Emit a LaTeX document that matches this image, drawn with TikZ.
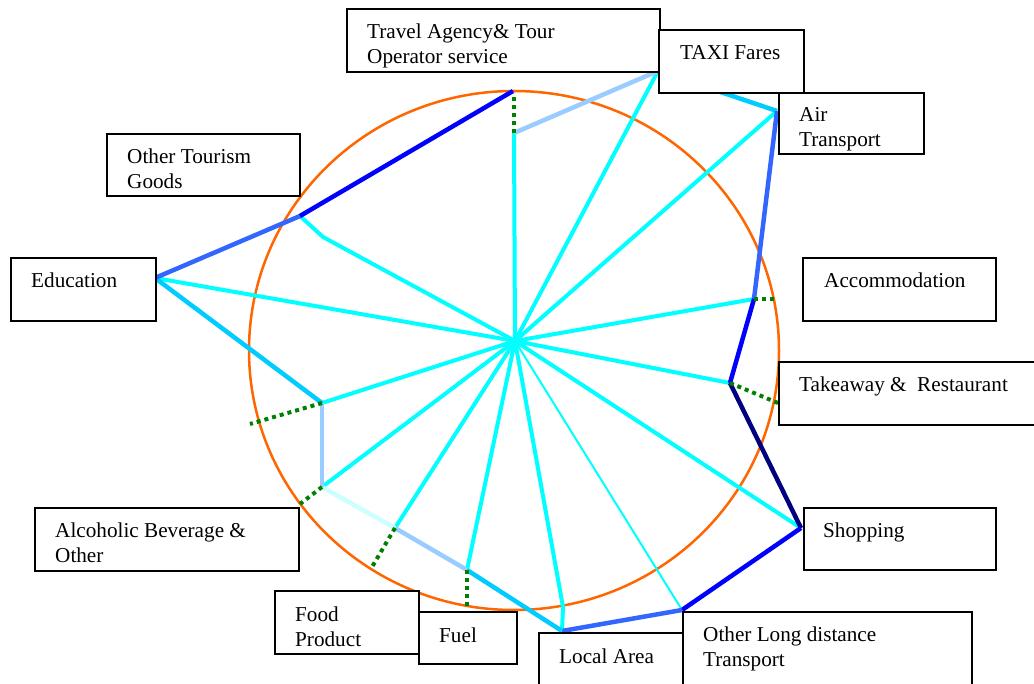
\documentclass[tikz,border=0pt]{standalone}
\usepackage{fontspec}
\setmainfont{Liberation Serif}
\definecolor{spoke}{HTML}{00FFFF}
\definecolor{lightblue}{HTML}{99CCFF}
\definecolor{skyblue}{HTML}{00CCFF}
\definecolor{royal}{HTML}{3366FF}
\definecolor{pureblue}{HTML}{0000FF}
\definecolor{navyblue}{HTML}{000080}
\definecolor{palecyan}{HTML}{CCFFFF}
\definecolor{ring}{HTML}{FF6600}
\definecolor{dotgreen}{HTML}{008000}
\begin{document}
\begin{tikzpicture}[x=1pt,y=-1pt,
  spokeline/.style={spoke,line width=4pt},
  thinspoke/.style={spoke,line width=2pt},
  rim/.style={line width=4.5pt},
  guide/.style={dotgreen,line width=4pt,dash pattern=on 4pt off 4pt},
  box/.style={draw=black,line width=2pt,fill=white,anchor=north west,inner sep=0pt},
  lbl/.style={anchor=base west,align=left,inner sep=0pt,font=\fontsize{21.2}{25}\selectfont}]
\useasboundingbox (0,0) rectangle (1034,684);

% reference circle
\draw[ring,line width=2.5pt] (514,350.5) ellipse [x radius=265, y radius=259.5];

% data points
\coordinate (hub) at (515,341);
\coordinate (pTravel) at (514,133);
\coordinate (pTop) at (513,91);
\coordinate (pTaxi) at (658,71);
\coordinate (pAir) at (777,111);
\coordinate (pAcc) at (754,299);
\coordinate (pTake) at (730,383);
\coordinate (pShop) at (801,528);
\coordinate (pLong) at (682,610);
\coordinate (kLocal) at (563,607);
\coordinate (pLocal) at (562,631);
\coordinate (pFuel) at (467,570);
\coordinate (pFood) at (395,528);
\coordinate (pAlc) at (322,487);
\coordinate (pMid) at (322,403);
\coordinate (pEdu) at (155,278);
\coordinate (kOther) at (323,237);
\coordinate (pOther) at (300,216);

% free ends of the dotted guides
\coordinate (gTravel) at (514,93);
\coordinate (gAcc) at (776,299);
\coordinate (gTake) at (778,403);
\coordinate (gMid) at (250,424);
\coordinate (gAlc) at (300,504);
\coordinate (gFood) at (372,567);
\coordinate (gFuel) at (467,609);

% spokes
\draw[spokeline] (hub) -- (pTravel);
\draw[spokeline] (hub) -- (pTaxi);
\draw[spokeline] (hub) -- (pAir);
\draw[spokeline] (hub) -- (pAcc);
\draw[spokeline] (hub) -- (pTake);
\draw[spokeline] (hub) -- (pShop);
\draw[thinspoke] (hub) -- (pLong);
\draw[spokeline] (hub) -- (kLocal) -- (pLocal);
\draw[spokeline] (hub) -- (pFuel);
\draw[spokeline] (hub) -- (pFood);
\draw[spokeline] (hub) -- (pAlc);
\draw[spokeline] (hub) -- (pMid);
\draw[spokeline] (hub) -- (pEdu);
\draw[spokeline] (hub) -- (kOther) -- (pOther);

% outline
\draw[rim,lightblue] (pTravel) -- (pTaxi);
\draw[rim,skyblue] (pTaxi) -- (pAir);
\draw[rim,royal] (pAir) -- (pAcc);
\draw[rim,pureblue] (pAcc) -- (pTake);
\draw[rim,navyblue] (pTake) -- (pShop);
\draw[rim,pureblue] (pShop) -- (pLong);
\draw[rim,royal] (pLong) -- (pLocal);
\draw[rim,skyblue] (pLocal) -- (pFuel);
\draw[rim,lightblue] (pFuel) -- (pFood);
\draw[rim,palecyan] (pFood) -- (pAlc);
\draw[rim,lightblue] (pAlc) -- (pMid);
\draw[rim,skyblue] (pMid) -- (pEdu);
\draw[rim,royal] (pEdu) -- (pOther);
\draw[rim,pureblue] (pOther) -- (pTop);

% dotted guides
\draw[guide] (pTravel) -- (gTravel);
\draw[guide] (pAcc) -- (gAcc);
\draw[guide] (pTake) -- (gTake);
\draw[guide] (pMid) -- (gMid);
\draw[guide] (pAlc) -- (gAlc);
\draw[guide] (pFood) -- (gFood);
\draw[guide] (pFuel) -- (gFuel);

% category boxes
\node[box,minimum width=313pt,minimum height=63pt] (travel) at (346,8) {};
\node[box,minimum width=145pt,minimum height=63pt] (taxi) at (658,29) {};
\node[box,minimum width=145pt,minimum height=61pt] (air) at (778,92) {};
\node[box,minimum width=193pt,minimum height=63pt] (acc) at (802,257) {};
\node[box,minimum width=270pt,minimum height=63pt] (take) at (778,361) {};
\node[box,minimum width=192pt,minimum height=62pt] (shop) at (803,507) {};
\node[box,minimum width=289pt,minimum height=76pt] (long) at (682,611) {};
\node[box,minimum width=144pt,minimum height=60pt] (local) at (538,632) {};
\node[box,minimum width=98pt,minimum height=52pt] (fuel) at (418,611) {};
\node[box,minimum width=144pt,minimum height=63pt] (food) at (274,590) {};
\node[box,minimum width=264pt,minimum height=63pt] (alc) at (34,507) {};
\node[box,minimum width=145pt,minimum height=63pt] (edu) at (10,257) {};
\node[box,minimum width=193pt,minimum height=62pt] (other) at (106,133) {};

% labels (two-line labels sit on the baseline of their second line)
\node[lbl] (travel-t) at ([shift={(21,55.5)}]travel.north west) {Travel Agency\& Tour\\Operator service};
\node[lbl] (taxi-t) at ([shift={(22,30.5)}]taxi.north west) {TAXI Fares};
\node[lbl] (air-t) at ([shift={(21,54.5)}]air.north west) {Air\\Transport};
\node[lbl] (acc-t) at ([shift={(22,30.5)}]acc.north west) {Accommodation};
\node[lbl] (take-t) at ([shift={(21,30.5)}]take.north west) {Takeaway \&\ \ Restaurant};
\node[lbl] (shop-t) at ([shift={(20,30.5)}]shop.north west) {Shopping};
\node[lbl] (long-t) at ([shift={(21,55.5)}]long.north west) {Other Long distance\\Transport};
\node[lbl] (local-t) at ([shift={(21,31)}]local.north west) {Local Area};
\node[lbl] (fuel-t) at ([shift={(21,31)}]fuel.north west) {Fuel};
\node[lbl] (food-t) at ([shift={(21,56)}]food.north west) {Food\\Product};
\node[lbl] (alc-t) at ([shift={(21,55.5)}]alc.north west) {Alcoholic Beverage \&\\Other};
\node[lbl] (edu-t) at ([shift={(21,31)}]edu.north west) {Education};
\node[lbl] (other-t) at ([shift={(21,55.5)}]other.north west) {Other Tourism\\Goods};
\end{tikzpicture}
\end{document}
